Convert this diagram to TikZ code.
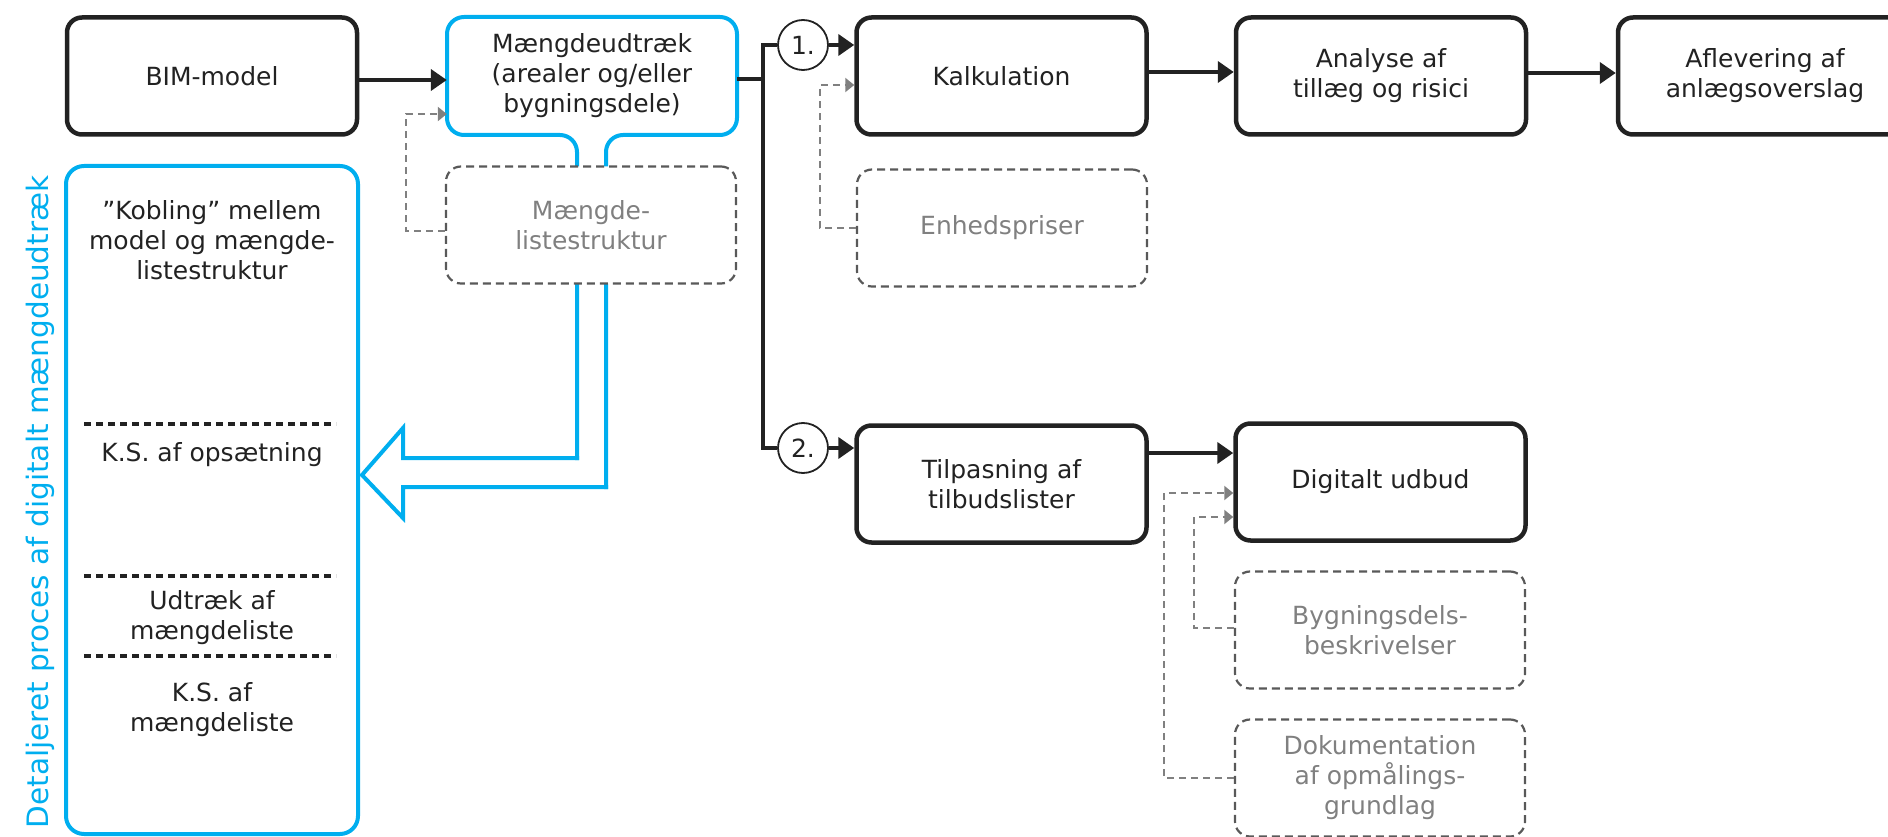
\documentclass[tikz,border=0pt]{standalone}
\usepackage{fontspec}
\setmainfont{DejaVu Sans}
\usetikzlibrary{arrows.meta,calc}
\definecolor{ink}{HTML}{222222}
\definecolor{cyanline}{RGB}{0,174,239}
\definecolor{softgray}{HTML}{808080}
\definecolor{boxgray}{HTML}{595959}
\begin{document}
\begin{tikzpicture}[x=1pt,y=-1pt,
  every node/.style={font=\fontsize{25}{30}\selectfont, text=ink, align=center, inner sep=0pt},
  stepbox/.style={draw=ink, line width=4.5pt, rounded corners=15pt, fill=white,
    minimum width=290pt, minimum height=117pt},
  ghostbox/.style={draw=boxgray, line width=2.2pt, dash pattern=on 8pt off 5pt,
    rounded corners=15pt, fill=white, minimum width=290pt, minimum height=117pt, text=softgray},
  numcircle/.style={draw=ink, circle, line width=1.8pt, minimum size=50pt, fill=white},
  trunk/.style={draw=ink, line width=4pt, line join=miter},
  flow/.style={draw=ink, line width=4pt, -{Triangle[length=16pt,width=21pt]}},
  feed/.style={draw=softgray, line width=2.2pt, dash pattern=on 7pt off 5pt,
    -{Triangle[length=9pt,width=14pt]}},
  cyanedge/.style={draw=cyanline, line width=4pt, line cap=rect},
  sepline/.style={draw=ink, line width=4.5pt, dash pattern=on 7pt off 5pt},
]
\useasboundingbox (0,0) rectangle (1888,837);

% main process chain
\node[stepbox] (bim) at (212,76) {BIM-model};
\node[minimum width=290pt, minimum height=118pt] (mud) at (592,76)
  {Mængdeudtræk\\(arealer og/eller\\bygningsdele)};
\node[stepbox] (kalk) at (1001.5,76) {Kalkulation};
\node[stepbox] (anal) at (1381,76) {Analyse af\\tillæg og risici};
\node[stepbox, minimum width=294pt] (afl) at (1765,76) {Aflevering af\\anlægsoverslag};
\node[stepbox] (tilp) at (1001.5,484) {Tilpasning af\\tilbudslister};
\node[stepbox] (digi) at (1380.5,482) {Digitalt udbud};

% blue outline of the quantity take-off box, its stems and the hollow arrow
\coordinate (s1) at (577,458);
\coordinate (s2) at (606,487);
\draw[cyanedge, rounded corners=17pt] (s1) -- (577,135) -- (447,135) -- (447,17)
  -- (737,17) -- (737,135) -- (606,135) -- (s2);
\draw[cyanedge, line join=miter] (s1) -- (403,458) -- (403,428) -- (362,475)
  -- (403,518) -- (403,487) -- (s2);

% supporting inputs
\node[ghostbox] (mls) at (591,225) {Mængde-\\listestruktur};
\node[ghostbox] (enh) at (1002,228) {Enhedspriser};
\node[ghostbox] (byg) at (1380,630) {Bygningsdels-\\beskrivelser};
\node[ghostbox] (dok) at (1380,778) {Dokumentation\\af opmålings-\\grundlag};

% detailed process column
\node[draw=cyanline, line width=4pt, rounded corners=18pt, minimum width=292pt,
  minimum height=668pt] (proc) at (212,500) {};
\node[rotate=90, anchor=base, text=cyanline, font=\fontsize{29.5}{35}\selectfont]
  (side) at (48,502) {Detaljeret proces af digitalt mængdeudtræk};
\node (p1) at (212,240) {”Kobling” mellem\\model og mængde-\\listestruktur};
\node (p2) at (212,455) {K.S. af opsætning};
\node (p3) at (212,618) {Udtræk af\\mængdeliste};
\node (p4) at (212,710) {K.S. af\\mængdeliste};
\draw[sepline] (84,424) -- (336,424);
\draw[sepline] (84,576) -- (336,576);
\draw[sepline] (84,656) -- (336,656);

% branching into the two routes
\node[numcircle] (c1) at (803,45) {1.};
\node[numcircle] (c2) at (803,448) {2.};
\coordinate (jt) at (763,45);
\coordinate (jb) at (763,448);
\coordinate (jm) at (763,79);
\draw[trunk] ($(mud.east)+(0,3)$) -- (jm);
\draw[trunk] (c1.west) -- (jt) -- (jb) -- (c2.west);
\draw[flow] (c1.east) -- (c1.east -| kalk.west);
\draw[flow] (c2.east) -- (c2.east -| tilp.west);

% main flow arrows
\draw[flow] ($(bim.east)+(0,4)$) -- ($(mud.west)+(0,4)$);
\draw[flow] ($(kalk.east)+(0,-4)$) -- ($(anal.west)+(0,-4)$);
\draw[flow] ($(anal.east)+(0,-3)$) -- ($(afl.west)+(0,-3)$);
\coordinate (t1) at ($(tilp.east)+(0,-31)$);
\draw[flow] (t1) -- (t1 -| digi.west);

% dashed input connectors
\draw[feed] ($(mls.west)+(0,6)$) -- ++(-39,0) |- ($(mud.west)+(0,38)$);
\draw[feed] (enh.west) -- ++(-36,0) |- ($(kalk.west)+(0,9)$);
\draw[feed] ($(byg.west)+(0,-2)$) -- ++(-40,0) |- ($(digi.west)+(0,35)$);
\draw[feed] (dok.west) -- ++(-70,0) |- ($(digi.west)+(0,11)$);
\end{tikzpicture}
\end{document}
